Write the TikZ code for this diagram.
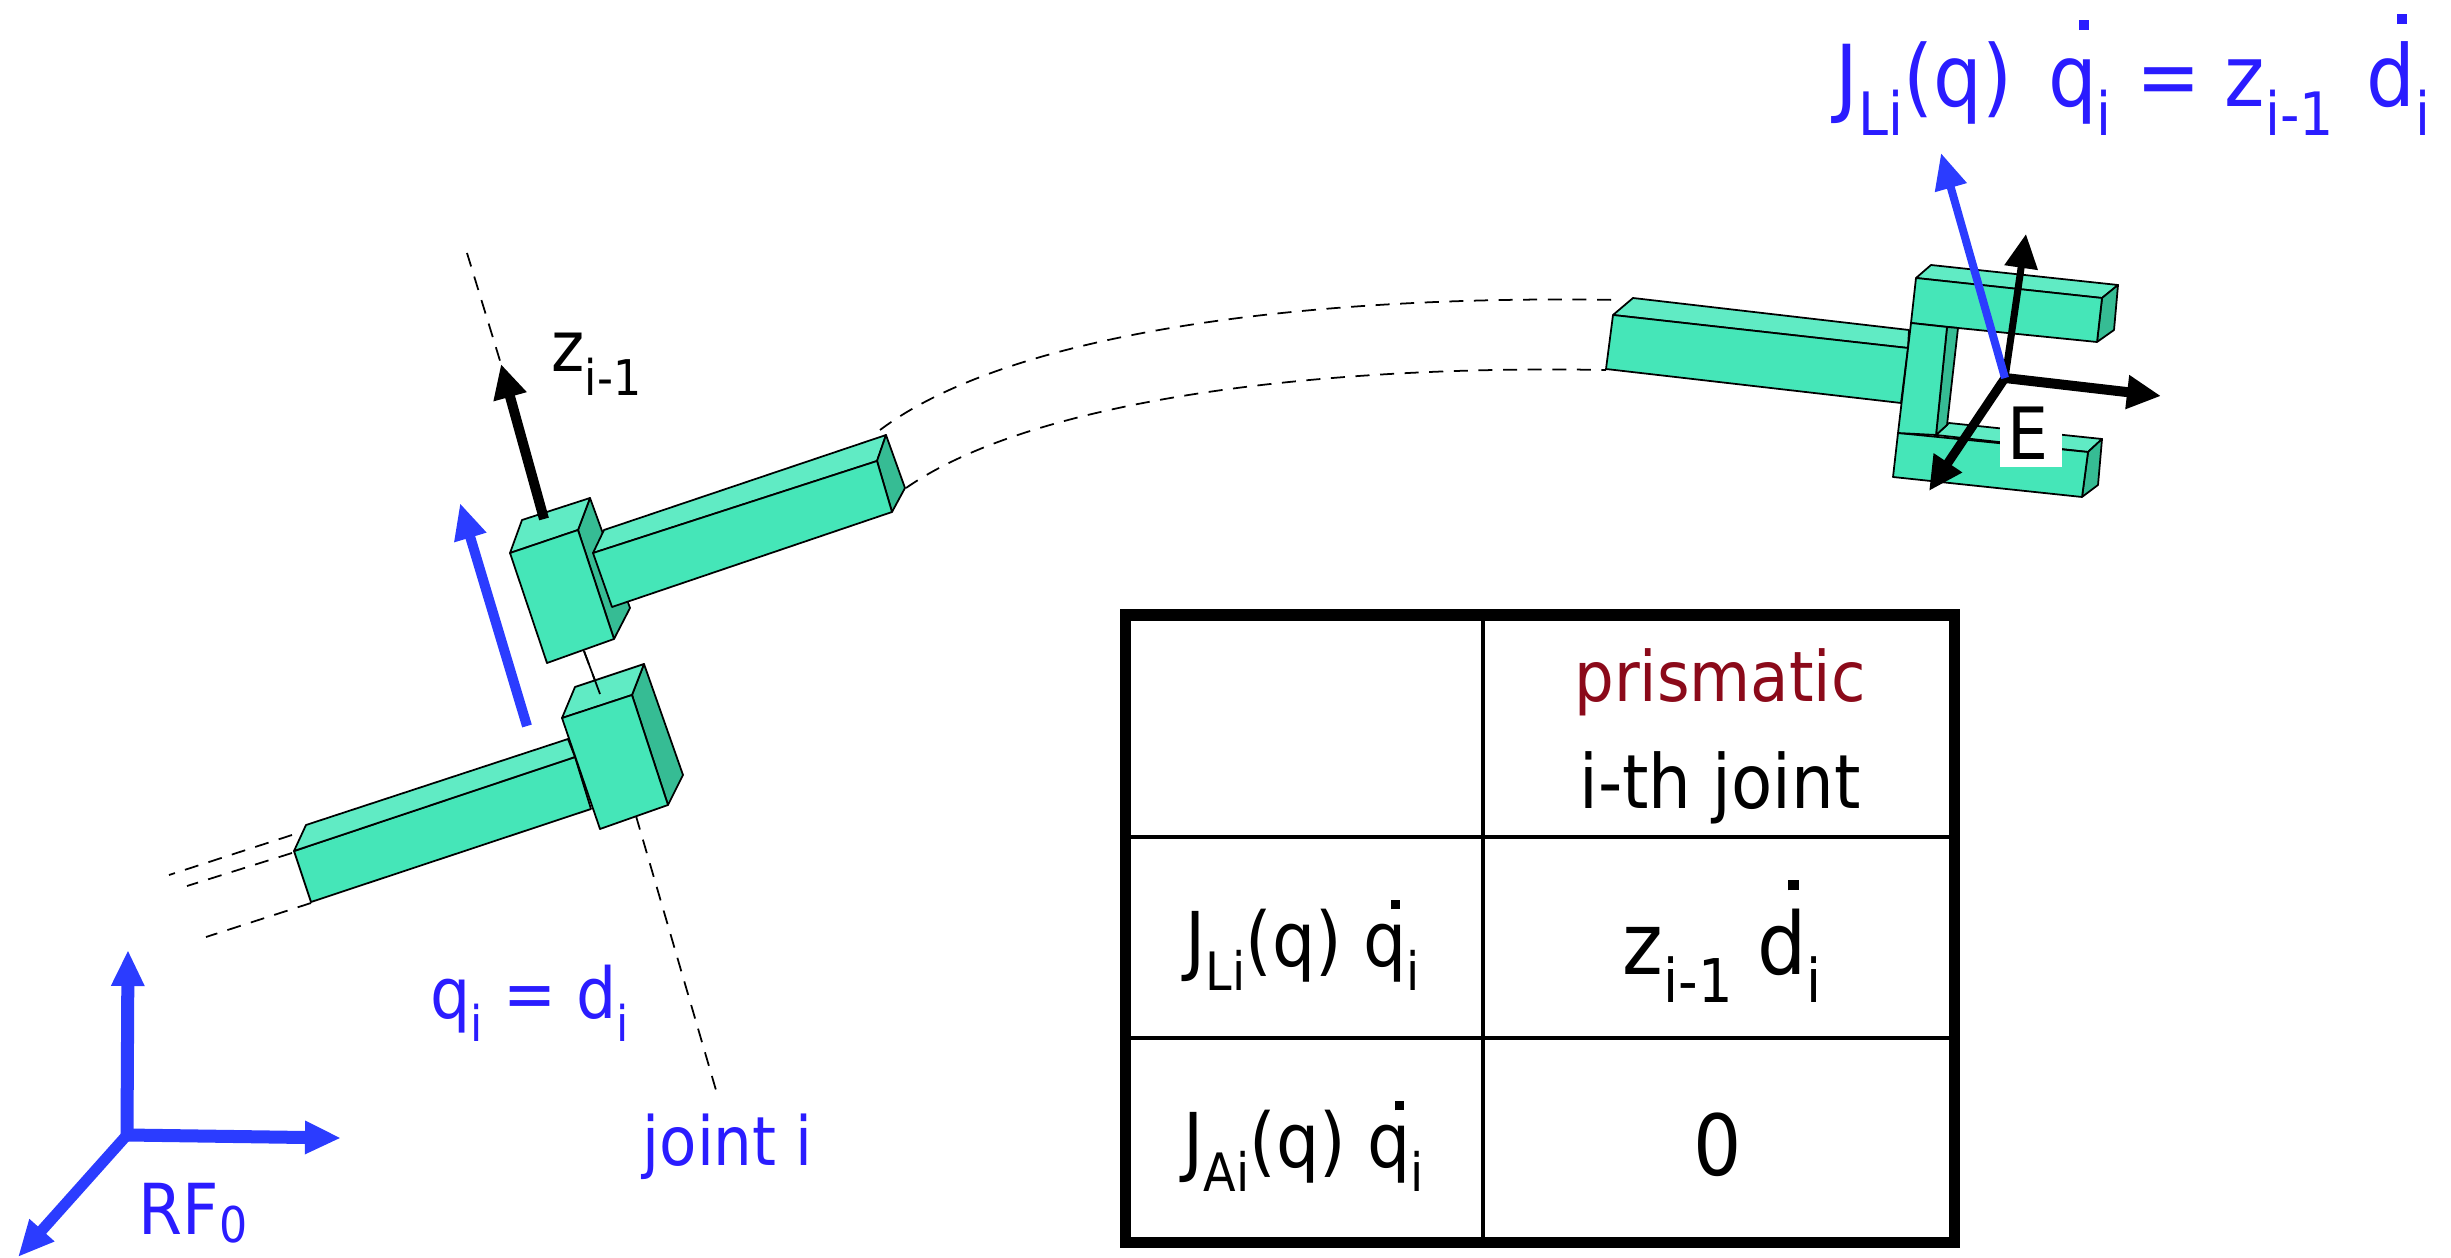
\documentclass[tikz,border=0pt]{standalone}
\usepackage{graphicx}
\usepackage{xcolor}
\usepackage{fontspec}
\setmainfont{DejaVu Sans Condensed}
\usetikzlibrary{arrows.meta}

\definecolor{linkfront}{HTML}{45E6B8}
\definecolor{linktop}{HTML}{60EBC4}
\definecolor{linkside}{HTML}{36BC94}
\definecolor{arrowblue}{HTML}{2B3CFF}
\definecolor{textblue}{HTML}{2A1CFF}
\definecolor{headred}{HTML}{8B0A1A}

\newcommand{\lowsub}[2][-0.33em]{\raisebox{#1}{\scalebox{0.7}{#2}}}
\newcommand{\topdot}[2][0.9em]{\rlap{\kern0.36em\rule[#1]{0.12em}{0.12em}}#2}

\tikzset{
  front/.style={draw=black, line width=0.5pt, line join=round, fill=linkfront},
  top/.style={draw=black, line width=0.5pt, line join=round, fill=linktop},
  side/.style={draw=black, line width=0.5pt, line join=round, fill=linkside},
  axis/.style={black, line width=0.5pt, dash pattern=on 4pt off 3pt},
  bluearrow/.style={arrowblue, line width=0.1cm, -{Triangle[length=0.36cm,width=0.31cm]}},
  blackarrow/.style={black, line width=0.09cm, -{Triangle[length=0.34cm,width=0.32cm]}},
  label/.style={anchor=base west, inner sep=0pt},
  cell/.style={anchor=base, inner sep=0pt}
}

\begin{document}
\begin{tikzpicture}[x=0.01cm, y=-0.01cm]
\useasboundingbox (0,0) rectangle (2451,1258);

% joint axis and dashed link outlines
\draw[axis] (467,253) -- (501,364);
\draw[axis] (584,651) -- (600,694);
\draw[axis] (636,816) -- (718,1097);
\draw[axis] (292,835) -- (169,875);
\draw[axis] (292,853) -- (187,886);
\draw[axis] (311,903) -- (206,937);
\draw[axis] (880,430) .. controls (1020,325) and (1340,295) .. (1618,300);
\draw[axis] (906,488) .. controls (1040,395) and (1340,365) .. (1606,370);

% lower link
\draw[front] (294,851) -- (311,902) -- (591,809) -- (575,757) -- cycle;
\draw[top] (294,851) -- (306,825) -- (568,739) -- (575,757) -- cycle;
\draw[side] (632,695) -- (644,664) -- (683,775) -- (668,805) -- cycle;
\draw[top] (562,718) -- (575,687) -- (644,664) -- (632,695) -- cycle;
\draw[front] (562,718) -- (632,695) -- (668,805) -- (600,829) -- cycle;
\draw[black, line width=0.5pt] (584,651) -- (600,694);

% upper link
\draw[side] (578,530) -- (590,498) -- (630,608) -- (614,639) -- cycle;
\draw[top] (593,553) -- (604,530) -- (886,435) -- (877,461) -- cycle;
\draw[side] (877,461) -- (886,435) -- (905,488) -- (892,512) -- cycle;
\draw[front] (593,553) -- (877,461) -- (892,512) -- (612,607) -- cycle;
\draw[top] (510,553) -- (522,520) -- (590,498) -- (578,530) -- cycle;
\draw[front] (510,553) -- (578,530) -- (614,639) -- (547,663) -- cycle;

% last link and gripper
\draw[top] (1613,315) -- (1633,298) -- (1909,330) -- (1908,348) -- cycle;
\draw[front] (1613,315) -- (1908,348) -- (1901,403) -- (1606,369) -- cycle;
\draw[top] (1916,278) -- (1931,265) -- (2118,285) -- (2102,298) -- cycle;
\draw[side] (2102,298) -- (2118,285) -- (2114,330) -- (2097,342) -- cycle;
\draw[front] (1916,278) -- (2102,298) -- (2097,342) -- (1958,328) -- (1911,323) -- cycle;
\draw[top] (1936,435) -- (1949,423) -- (2102,439) -- (2088,452) -- cycle;
\draw[side] (2088,452) -- (2102,439) -- (2098,485) -- (2082,497) -- cycle;
\draw[front] (1898,433) -- (2088,452) -- (2082,497) -- (1893,477) -- cycle;
\draw[side] (1947,327) -- (1958,328) -- (1947,425) -- (1936,435) -- cycle;
\draw[front] (1911,323) -- (1947,327) -- (1936,435) -- (1898,433) -- cycle;

% frame at the end effector
\coordinate (orgE) at (2005,378);
\coordinate (tipEup) at (2026,234);
\coordinate (tipEright) at (2161,396);
\coordinate (tipEdown) at (1929,491);
\coordinate (tipJL) at (1941,153);
\draw[blackarrow, line width=0.07cm] (orgE) -- (tipEup);
\draw[blackarrow, line width=0.1cm] (orgE) -- (tipEright);
\draw[blackarrow] (orgE) -- (tipEdown);
\draw[bluearrow, line width=0.08cm] (orgE) -- (tipJL);
\node[fill=white, minimum width=0.62cm, minimum height=0.59cm, inner sep=0pt] (boxE) at (2031,437) {};
\node[label, font=\fontsize{20.5}{22}\selectfont] (labelE) at (2007,460) {E};

% joint arrows
\coordinate (baseZ) at (544,519);
\coordinate (tipZ) at (501,364);
\coordinate (baseQ) at (527,726);
\coordinate (tipQ) at (460,503);
\draw[blackarrow, line width=0.1cm] (baseZ) -- (tipZ);
\draw[bluearrow] (baseQ) -- (tipQ);
\node[label, font=\fontsize{20}{22}\selectfont] (labelZ) at (551,372) {z\lowsub{i-1}};

% base frame
\coordinate (orgB) at (127,1135);
\coordinate (tipBup) at (128,950);
\coordinate (tipBright) at (341,1138);
\coordinate (tipBdown) at (18,1257);
\draw[bluearrow, line width=0.13cm] (orgB) -- (tipBup);
\draw[bluearrow, line width=0.13cm] (orgB) -- (tipBright);
\draw[bluearrow, line width=0.11cm] (orgB) -- (tipBdown);
\node[label, text=textblue, font=\fontsize{20}{22}\selectfont] (labelRF) at (138,1234) {RF\lowsub[-0.12em]{0}};

% blue labels
\node[label, text=textblue, font=\fontsize{20}{22}\selectfont] (labelQ) at (430,1018) {q\lowsub{i} = d\lowsub{i}};
\node[label, text=textblue, font=\fontsize{19.3}{22}\selectfont] (labelJoint) at (642,1165) {joint i};
\node[label, text=textblue, font=\fontsize{24.3}{26}\selectfont] (labelTop) at (1835,107)
  {J\lowsub{Li}(q)\hspace{0.42em}\topdot{q}\lowsub{i} = z\lowsub{i-1}\hspace{0.38em}\topdot[0.97em]{d}\lowsub{i}};

% table
\draw[line width=0.11cm] (1125,615) rectangle (1954,1242);
\draw[line width=0.04cm] (1483,615) -- (1483,1242);
\draw[line width=0.04cm] (1125,837) -- (1954,837);
\draw[line width=0.04cm] (1125,1038) -- (1954,1038);
\node[cell, text=headred, font=\fontsize{19.8}{22}\selectfont] (headPrism) at (1720,701) {prismatic};
\node[cell, font=\fontsize{21.3}{23}\selectfont] (headJoint) at (1720,808) {i-th joint};
\node[label, font=\fontsize{21.5}{23}\selectfont] (rowJL) at (1185,966) {J\lowsub{Li}(q) \topdot[0.75em]{q}\lowsub{i}};
\node[label, font=\fontsize{21.5}{23}\selectfont] (rowJA) at (1183,1167) {J\lowsub{Ai}(q) \topdot[0.75em]{q}\lowsub{i}};
\node[label, font=\fontsize{24.5}{26}\selectfont] (cellL) at (1622,974) {z\lowsub{i-1} \topdot[0.97em]{d}\lowsub{i}};
\node[cell, font=\fontsize{24}{26}\selectfont] (cellA) at (1718,1175) {0};
\end{tikzpicture}
\end{document}
